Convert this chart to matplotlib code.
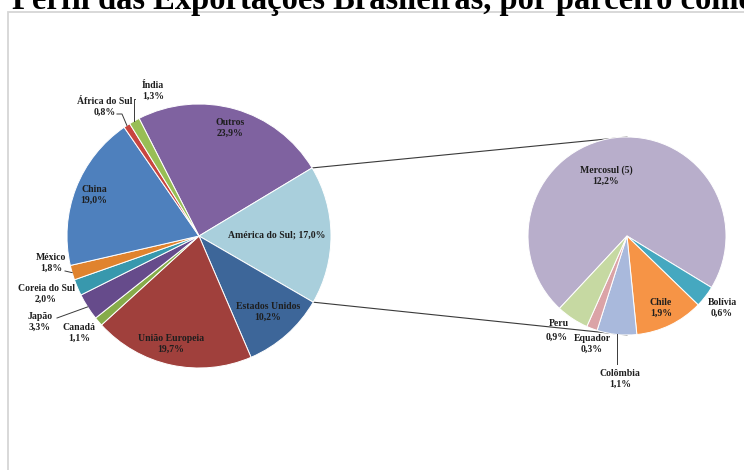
import numpy as np
import matplotlib.pyplot as plt
from matplotlib.patches import Rectangle

plt.rcParams['font.family'] = ['Liberation Serif', 'DejaVu Serif']

# Exportações por parceiro (%)
parceiros = ['Outros', 'América do Sul', 'Estados Unidos', 'União Europeia', 'Canadá',
             'Japão', 'Coreia do Sul', 'México', 'China', 'África do Sul', 'Índia']
valores = [23.9, 17.0, 10.2, 19.7, 1.1, 3.3, 2.0, 1.8, 19.0, 0.8, 1.3]
cores = ['#7F62A0', '#A9CFDC', '#3D6699', '#A0403C', '#86AC4A', '#664B8B',
         '#3898AD', '#E0832E', '#4E80BD', '#C8453F', '#98BE55']

# Detalhe da América do Sul (%)
sul = ['Mercosul (5)', 'Bolívia', 'Chile', 'Colômbia', 'Equador', 'Peru']
valores_sul = [12.2, 0.6, 1.9, 1.1, 0.3, 0.9]
cores_sul = ['#B8AECB', '#45A8C0', '#F69446', '#A9B9DC', '#DBA3A7', '#C6D9A2']

W, H = 744, 470
fig = plt.figure(figsize=(W / 100, H / 100), dpi=100)
ax = fig.add_axes([0, 0, 1, 1])

c1, r1 = (199, H - 236), 132
c2, r2 = (627, H - 236), 99

w1, _ = ax.pie(valores, colors=cores, center=c1, radius=r1, startangle=117,
               counterclock=False, wedgeprops=dict(edgecolor='white', linewidth=0.7))
w2, _ = ax.pie(valores_sul, colors=cores_sul, center=c2, radius=r2, startangle=227,
               counterclock=False, wedgeprops=dict(edgecolor='white', linewidth=0.7))
for w in list(w1) + list(w2):
    w.set_zorder(2)

def ponto(c, r, ang):
    a = np.deg2rad(ang)
    return c[0] + r * np.cos(a), c[1] + r * np.sin(a)

# linhas ligando a fatia América do Sul ao gráfico secundário
ams = w1[1]
p_top = ponto(c1, r1, ams.theta2)
p_bot = ponto(c1, r1, ams.theta1)
ax.plot([p_top[0], c2[0]], [p_top[1], c2[1] + r2], color='#3A3A3A', lw=0.8, zorder=1)
ax.plot([p_bot[0], c2[0]], [p_bot[1], c2[1] - r2], color='#3A3A3A', lw=0.8, zorder=1)

def meio(w):
    return (w.theta1 + w.theta2) / 2

def fmt(v):
    return f'{v:.1f}%'.replace('.', ',')

kw = dict(fontsize=7, fontweight='bold', color='#1E1E1E', ha='center', va='center',
          linespacing=1.25, zorder=5)

# rótulos do gráfico principal (posições em pixels da imagem)
pos = {'Outros': (230, 128), 'Estados Unidos': (268, 312), 'União Europeia': (171, 344),
       'Canadá': (79, 333), 'Japão': (40, 322), 'Coreia do Sul': (46, 294),
       'México': (51, 263), 'China': (94, 195), 'África do Sul': (105, 107),
       'Índia': (153, 91)}
for nome, v in zip(parceiros, valores):
    if nome == 'América do Sul':
        ax.text(277, H - 235, f'{nome}; {fmt(v)}', **kw)
        continue
    x, y = pos[nome]
    ax.text(x, H - y, f'{nome}\n{fmt(v)}', **kw)

pos_sul = {'Mercosul (5)': (606, 176), 'Bolívia': (722, 308), 'Chile': (661, 308),
           'Colômbia': (620, 379), 'Equador': (592, 344)}
for nome, v in zip(sul, valores_sul):
    if nome == 'Peru':
        ax.text(559, H - 324, nome, **kw)
        ax.text(557, H - 337, fmt(v), **kw)
        continue
    x, y = pos_sul[nome]
    ax.text(x, H - y, f'{nome}\n{fmt(v)}', **kw)

# linhas de chamada
lk = dict(color='#3A3A3A', lw=0.7, zorder=4)
px, py = ponto(c1, r1, meio(w1[10]))
ax.plot([135, px, px], [H - 99, H - 99, py], **lk)
px, py = ponto(c1, r1, meio(w1[9]))
ax.plot([117, 122, px], [H - 114, H - 114, py], **lk)
px, py = ponto(c1, r1, meio(w1[7]))
ax.plot([65, px], [H - 271, py], **lk)
px, py = ponto(c1, r1, meio(w1[5]))
ax.plot([57, px], [H - 318, py], **lk)
px, py = ponto(c2, r2, meio(w2[3]))
ax.plot([px, px], [py, H - 364], **lk)

# moldura
ax.add_patch(Rectangle((8, -20), 800, H - 12 + 20, fill=False, edgecolor='#D6D6D6',
                       lw=1.3, zorder=0))

ax.set_xlim(0, W)
ax.set_ylim(0, H)
ax.set_aspect('equal')
ax.axis('off')

fig.text(12 / W, (H - 9) / H, 'Perfil das Exportações Brasileiras, por parceiro comercial',
         fontsize=23.5, fontweight='bold', va='baseline', ha='left', color='black')

fig.savefig('out.png', dpi=100)
